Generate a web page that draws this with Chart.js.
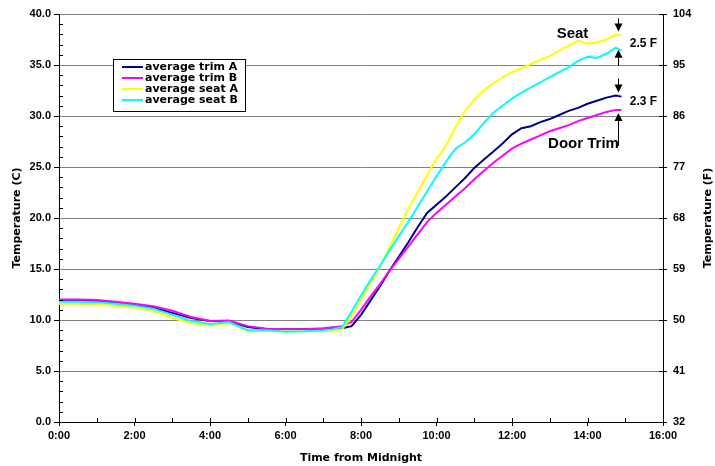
<!DOCTYPE html>
<html>
<head>
<meta charset="utf-8">
<script src="https://cdn.jsdelivr.net/npm/chart.js@4.4.1/dist/chart.umd.min.js"></script>
<style>
  html, body { margin: 0; padding: 0; background: #fff; }
  canvas { display: block; }
</style>
</head>
<body>
<canvas id="chart" width="715" height="466"></canvas>
<script>
// hours after midnight
const times = [0, 0.5, 1, 1.5, 2, 2.5, 3, 3.5, 4, 4.5, 5, 5.5, 6, 6.5, 7,
  7.25, 7.5, 7.75, 8, 8.25, 8.5, 8.75, 9, 9.25, 9.5, 9.75, 10, 10.25, 10.5, 10.75,
  11, 11.25, 11.5, 11.75, 12, 12.25, 12.5, 12.75, 13, 13.25, 13.5, 13.75, 14, 14.25,
  14.5, 14.75, 14.9]

const trimA = [11.9, 11.9, 11.85, 11.7, 11.5, 11.2, 10.7, 10.2, 9.9, 9.9, 9.3, 9.1, 9.1, 9.1, 9.15,
  9.2, 9.2, 9.4, 10.5, 11.9, 13.3, 14.8, 16.2, 17.6, 19.1, 20.5, 21.3, 22.1, 23.0, 23.9,
  24.9, 25.7, 26.5, 27.3, 28.2, 28.8, 29.0, 29.4, 29.7, 30.1, 30.5, 30.8, 31.2, 31.5,
  31.8, 32.0, 31.9]
const trimB = [12.0, 12.0, 11.95, 11.8, 11.6, 11.35, 10.9, 10.3, 9.9, 9.95, 9.4, 9.15, 9.1, 9.1, 9.2,
  9.3, 9.4, 9.8, 11.0, 12.3, 13.5, 14.8, 16.0, 17.2, 18.4, 19.6, 20.5, 21.3, 22.1, 22.9,
  23.8, 24.6, 25.4, 26.1, 26.8, 27.3, 27.7, 28.1, 28.5, 28.8, 29.1, 29.5, 29.8, 30.1,
  30.4, 30.6, 30.6]
const seatA = [11.6, 11.6, 11.55, 11.4, 11.2, 10.9, 10.2, 9.7, 9.45, 9.7, 8.9, 8.9, 8.9, 8.9, 8.9,
  8.9, 9.1, 10.3, 12.0, 13.6, 15.2, 17.1, 19.0, 20.9, 22.5, 24.2, 25.8, 27.1, 28.9, 30.5,
  31.6, 32.5, 33.2, 33.8, 34.3, 34.7, 35.1, 35.5, 35.9, 36.4, 36.9, 37.4, 37.1, 37.2,
  37.5, 38.0, 37.9]
const seatB = [11.8, 11.8, 11.75, 11.6, 11.4, 11.1, 10.5, 9.9, 9.6, 9.8, 9.0, 9.0, 8.85, 8.9, 9.0,
  9.1, 9.3, 10.8, 12.4, 13.9, 15.3, 16.8, 18.2, 19.6, 21.1, 22.6, 24.1, 25.5, 26.8, 27.4,
  28.2, 29.3, 30.3, 31.0, 31.7, 32.3, 32.8, 33.3, 33.8, 34.3, 34.8, 35.4, 35.8, 35.7,
  36.1, 36.7, 36.4]

const seriesNames = ['average trim A', 'average trim B', 'average seat A', 'average seat B']
const seriesColors = ['#000080', '#FF00FF', '#FFFF00', '#00FFFF']
const fahrenheitTicks = [32, 41, 50, 59, 68, 77, 86, 95, 104]
const arrowTime = 14.8

const titleFont = { family: 'DejaVu Sans', size: 11, weight: 'bold' }

function series(values, i) {
  return {
    label: seriesNames[i],
    data: times.map((t, k) => ({ x: t, y: values[k] })),
    borderColor: seriesColors[i],
    borderWidth: 2,
    pointRadius: 0,
    tension: 0,
    order: 4 - i, // later series on top, like the original
  }
}

function arrow(ctx, x, from, to) {
  const dir = to > from ? 1 : -1
  ctx.beginPath()
  ctx.moveTo(x, from)
  ctx.lineTo(x, to - dir * 5)
  ctx.stroke()
  ctx.beginPath()
  ctx.moveTo(x, to)
  ctx.lineTo(x - 4, to - dir * 8)
  ctx.lineTo(x + 4, to - dir * 8)
  ctx.closePath()
  ctx.fill()
}

const extras = {
  id: 'extras',
  afterDatasetsDraw(chart) {
    const { ctx, chartArea: a, scales: { x, y, y2 } } = chart
    ctx.save()
    ctx.strokeStyle = '#000'
    ctx.fillStyle = '#000'
    ctx.lineWidth = 1

    // minor ticks and the inner half of crossing ticks
    ctx.beginPath()
    for (let v = 1; v < 40; v++) {
      if (v % 5 === 0) continue
      const py = Math.round(y.getPixelForValue(v)) + 0.5
      ctx.moveTo(a.left, py)
      ctx.lineTo(a.left + 4, py)
    }
    for (let h = 1; h < 16; h++) {
      const px = Math.round(x.getPixelForValue(h)) + 0.5
      ctx.moveTo(px, a.bottom)
      ctx.lineTo(px, a.bottom - 4)
    }
    fahrenheitTicks.forEach(f => {
      const py = Math.round(y2.getPixelForValue(f)) + 0.5
      ctx.moveTo(a.right - 4, py)
      ctx.lineTo(a.right, py)
    })
    ctx.stroke()

    // legend box
    const lx = 113, ly = 59
    ctx.fillStyle = '#fff'
    ctx.fillRect(lx, ly, 132, 52)
    ctx.strokeRect(lx + 0.5, ly + 0.5, 132, 52)
    ctx.font = 'bold 11px "DejaVu Sans"'
    ctx.textBaseline = 'middle'
    ctx.textAlign = 'left'
    chart.data.datasets.forEach((ds, i) => {
      const ry = ly + 8 + i * 11
      ctx.strokeStyle = ds.borderColor
      ctx.lineWidth = 2
      ctx.beginPath()
      ctx.moveTo(lx + 9, ry)
      ctx.lineTo(lx + 30, ry)
      ctx.stroke()
      ctx.fillStyle = '#000'
      ctx.fillText(ds.label, lx + 32, ry + 0.5)
    })

    // arrows and notes at the end of the run
    const ax = Math.round(x.getPixelForValue(arrowTime)) + 0.5
    const endOf = arr => y.getPixelForValue(arr[arr.length - 2])
    ctx.strokeStyle = '#000'
    ctx.fillStyle = '#000'
    ctx.lineWidth = 1
    arrow(ctx, ax, endOf(seatA) - 16, endOf(seatA) - 3)
    arrow(ctx, ax, endOf(seatB) + 18, endOf(seatB) + 2)
    arrow(ctx, ax, endOf(trimA) - 17, endOf(trimA) - 3)
    arrow(ctx, ax, endOf(trimB) + 36, endOf(trimB) + 3)

    ctx.textAlign = 'center'
    ctx.font = 'bold 15px "Liberation Sans", Arial'
    ctx.fillText('Seat', ax - 46, 34)
    ctx.fillText('Door Trim', ax - 35, 144)
    ctx.font = 'bold 12px "Liberation Sans", Arial'
    ctx.fillText('2.5 F', ax + 25, 44)
    ctx.fillText('2.3 F', ax + 25, 102)

    // right axis title reads upward like the left one
    ctx.font = 'bold 11px "DejaVu Sans"'
    ctx.translate(708, (a.top + a.bottom) / 2)
    ctx.rotate(-Math.PI / 2)
    ctx.fillText('Temperature (F)', 0, 0)
    ctx.restore()
  },
}

Chart.defaults.color = '#000'
Chart.defaults.font = { family: '"Liberation Sans", Arial', size: 11, weight: 'bold' }

new Chart(document.getElementById('chart'), {
  type: 'line',
  data: {
    datasets: [series(trimA, 0), series(trimB, 1), series(seatA, 2), series(seatB, 3)],
  },
  options: {
    responsive: false,
    animation: false,
    layout: { padding: { top: 14, left: 0, right: 0, bottom: 0 } },
    plugins: { legend: { display: false }, tooltip: { enabled: false } },
    scales: {
      x: {
        type: 'linear',
        position: 'bottom',
        min: 0,
        max: 16,
        afterFit: s => { s.height = 44 },
        ticks: { stepSize: 2, maxRotation: 0, autoSkip: false, padding: 3, callback: v => v + ':00' },
        grid: { drawOnChartArea: false, tickLength: 4, tickColor: '#000' },
        border: { color: '#000', width: 1 },
        title: { display: true, text: 'Time from Midnight', font: titleFont, padding: { top: 0, bottom: 1.5 } },
      },
      y: {
        position: 'left',
        min: 0,
        max: 40,
        afterFit: s => { s.width = 59 },
        ticks: { stepSize: 5, padding: 3, callback: v => v.toFixed(1) },
        grid: { color: '#808080', tickLength: 5, tickColor: '#000' },
        border: { color: '#000', width: 1 },
        title: { display: true, text: 'Temperature (C)', font: titleFont, padding: { top: 10.4, bottom: 0 } },
      },
      y2: {
        position: 'right',
        min: 32,
        max: 104,
        afterFit: s => { s.width = 52 },
        afterBuildTicks: s => { s.ticks = fahrenheitTicks.map(v => ({ value: v })) },
        ticks: { padding: 6 },
        grid: { drawOnChartArea: false, tickLength: 4, tickColor: '#000' },
        border: { color: '#000', width: 1 },
      },
    },
  },
  plugins: [extras],
})
</script>
</body>
</html>
